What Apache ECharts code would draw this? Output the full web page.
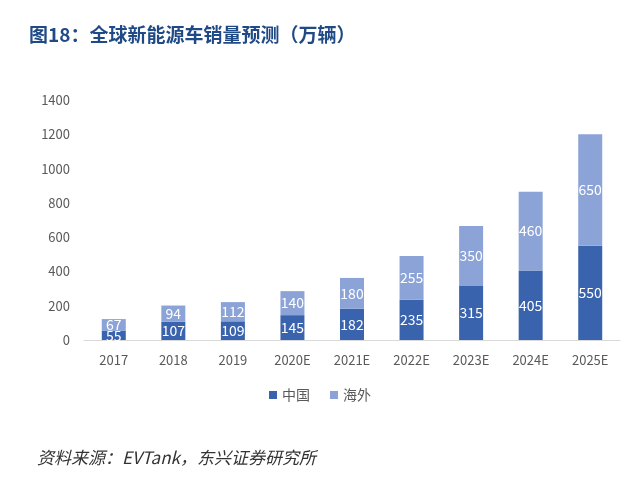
<!DOCTYPE html>
<html><head><meta charset="utf-8">
<script src="https://cdn.jsdelivr.net/npm/echarts@6/dist/echarts.min.js"></script>
<style>html,body{margin:0;padding:0;background:#fff;}#c{width:640px;height:489px;}</style>
</head><body><div id="c"></div>
<script>
const categories = ['2017','2018','2019','2020E','2021E','2022E','2023E','2024E','2025E'];
const chinaValues = [55,107,109,145,182,235,315,405,550];
const overseasValues = [67,94,112,140,180,255,350,460,650];
const yTicks = [0,200,400,600,800,1000,1200,1400];
const seriesNames = ['中国','海外'];

const chart = echarts.init(document.getElementById('c'));
const font = '"Noto Sans CJK SC", "Open Sans", sans-serif';
chart.setOption({
  animation:false,
  title:[
    {text:'图18：全球新能源车销量预测（万辆）',left:24,top:20,textStyle:{fontFamily:font,fontSize:19,fontWeight:'bold',color:'#1f4a86'}},
    {text:'资料来源：EVTank，东兴证券研究所',left:32,top:444,textStyle:{fontFamily:font,fontSize:17,fontStyle:'italic',fontWeight:'normal',color:'#333'}}
  ],
  grid:{left:84,right:20,top:100,bottom:149},
  legend:{bottom:82,left:'center',itemWidth:8,itemHeight:8,itemGap:20,icon:'rect',
    textStyle:{fontFamily:font,fontSize:14,color:'#595959'},data:seriesNames},
  xAxis:{type:'category',data:categories,
    axisLine:{lineStyle:{color:'#d9d9d9',width:1}},axisTick:{show:false},
    axisLabel:{fontFamily:font,fontSize:13,color:'#595959',margin:14}},
  yAxis:{type:'value',min:yTicks[0],max:yTicks[yTicks.length-1],interval:200,
    axisLine:{show:false},axisTick:{show:false},splitLine:{show:false},
    axisLabel:{fontFamily:font,fontSize:13,color:'#595959',margin:14,formatter:function(v){return String(v);}}},
  series:[
    {name:seriesNames[0],type:'bar',stack:'t',data:chinaValues,barWidth:24,
      itemStyle:{color:'#3a63ae'},
      label:{show:true,position:'inside',color:'#fff',fontFamily:font,fontSize:14}},
    {name:seriesNames[1],type:'bar',stack:'t',data:overseasValues,barWidth:24,
      itemStyle:{color:'#8ba3d7'},
      label:{show:true,position:'inside',color:'#fff',fontFamily:font,fontSize:14}}
  ]
});
</script></body></html>
